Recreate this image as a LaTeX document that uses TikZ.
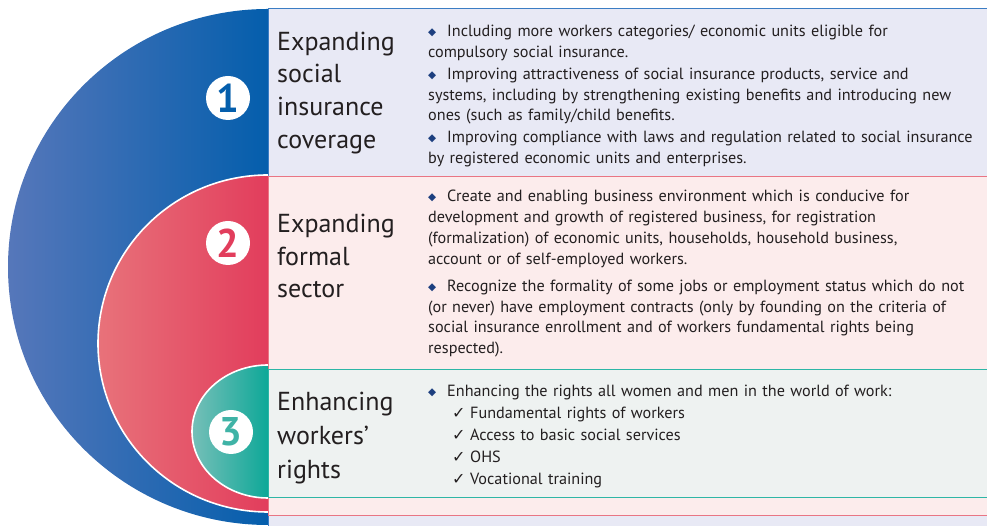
\documentclass[tikz,border=0pt]{standalone}
\usepackage{fontspec}
\setmainfont{PT Sans}
\newfontfamily\symfont{DejaVu Sans}
\usepackage{xcolor}
\usetikzlibrary{positioning}

% Colours of the three levels
\definecolor{blueD}{HTML}{045EAC}
\definecolor{blueL}{HTML}{5677BA}
\definecolor{redD}{HTML}{E23D5C}
\definecolor{redL}{HTML}{E8727A}
\definecolor{tealD}{HTML}{0EA898}
\definecolor{tealL}{HTML}{76BFB8}
\definecolor{tealN}{HTML}{3FB3A6}
\definecolor{blueBox}{HTML}{E8E9F5}
\definecolor{redBox}{HTML}{FCECEC}
\definecolor{tealBox}{HTML}{EEF2F1}
\definecolor{blueLine}{HTML}{3B7DC4}
\definecolor{redLine}{HTML}{E97584}
\definecolor{tealLine}{HTML}{2DB6A6}
\definecolor{navy}{HTML}{1D3F7F}
\definecolor{ink}{HTML}{231F20}

% Bullets
\newcommand{\dmark}{\raisebox{1pt}{\symfont\color{navy}\fontsize{10.5}{10.5}\selectfont ◆}}
\newcommand{\cmark}{\raisebox{0pt}[0pt][0pt]{\symfont\fontsize{16}{16}\selectfont ✓}}
\newcommand{\ditem}[1]{\noindent\hangindent=19pt\hangafter=1\makebox[19pt][l]{\dmark}#1\par}
\newcommand{\citem}[1]{\noindent\hspace*{24pt}\makebox[18pt][l]{\cmark}#1\par}

\begin{document}
\begin{tikzpicture}[x=1pt,y=1pt,
	num/.style={circle,fill=white,minimum size=44pt,inner sep=0pt,font=\fontsize{40}{40}\selectfont\bfseries},
	title/.style={anchor=base west,align=left,inner sep=0pt,text=ink,font=\fontsize{26}{32.8}\selectfont},
	body/.style={anchor=base west,text width=560pt,align=left,inner sep=0pt,text=ink,font=\fontsize{16.2}{20.7}\selectfont},
	rim/.style={draw=white,line width=1.6pt}]
	\useasboundingbox (0,0) rectangle (987,526);
	\clip (0,0) rectangle (987,526);

	% Level 1: social insurance
	\shade[left color=blueL,right color=blueD] (268,517) arc[start angle=90,end angle=270,x radius=260,y radius=258] -- cycle;
	\draw[blueLine,fill=blueBox,line width=1pt] (268,517) rectangle (995,-5);

	% Level 2: formal sector
	\shade[left color=redL,right color=redD] (268,351) arc[start angle=90,end angle=270,x radius=170,y radius=168.5] -- cycle;
	\draw[rim] (268,351) arc[start angle=90,end angle=270,x radius=170,y radius=168.5];
	\draw[redLine,fill=redBox,line width=1pt] (268,349) rectangle (995,10);

	% Level 3: workers' rights
	\shade[left color=tealL,right color=tealD] (268,161) arc[start angle=90,end angle=270,x radius=76,y radius=66.5] -- cycle;
	\draw[rim] (268,161) arc[start angle=90,end angle=270,x radius=76,y radius=66.5];
	\draw[tealLine,fill=tealBox,line width=1pt] (268,156) rectangle (995,28);

	% Numbers
	\node[num,text=blueD] (n1) at (228,428) {1};
	\node[num,text=redD] (n2) at (228,283) {2};
	\node[num,text=tealN] (n3) at (231,94) {3};

	% Titles (base is the last line)
	\node[title] (t1) at (277,377.5) {Expanding\\social\\insurance\\coverage};
	\node[title] (t2) at (277,228) {Expanding\\formal\\sector};
	\node[title,font=\fontsize{26}{34}\selectfont] (t3) at (277,47) {Enhancing\\workers’\\rights};

	% Measures
	\node[body] (b1) at (428,489) {\setlength{\parskip}{1pt}%
		\ditem{Including more workers categories/ economic units eligible for\\compulsory social insurance.}%
		\ditem{Improving attractiveness of social insurance products, service and\\systems, including by strengthening existing benefits and introducing new\\ones (such as family/child benefits.}%
		\ditem{Improving compliance with laws and regulation related to social insurance\\by registered economic units and enterprises.}};
	\node[body] (b2) at (428,324) {\setlength{\parskip}{6.7pt}%
		\ditem{Create and enabling business environment which is conducive for\\development and growth of registered business, for registration\\(formalization) of economic units, households, household business,\\account or of self-employed workers.}%
		\ditem{Recognize the formality of some jobs or employment status which do not\\(or never) have employment contracts (only by founding on the criteria of\\social insurance enrollment and of workers fundamental rights being\\respected).}};
	\node[body,font=\fontsize{16.2}{22}\selectfont] (b3) at (428,129) {%
		\ditem{Enhancing the rights all women and men in the world of work:}%
		\citem{Fundamental rights of workers}%
		\citem{Access to basic social services}%
		\citem{OHS}%
		\citem{Vocational training}};
\end{tikzpicture}
\end{document}
